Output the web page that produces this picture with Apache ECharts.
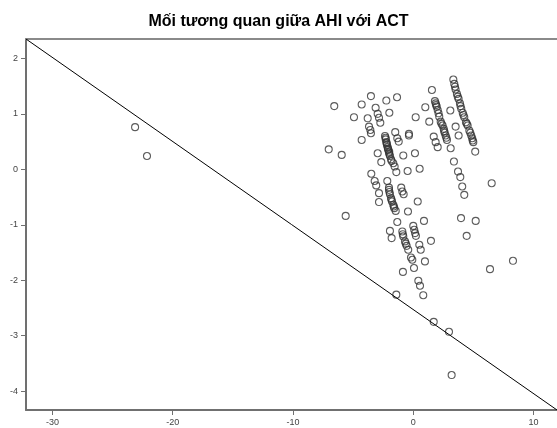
<!DOCTYPE html>
<html>
<head>
<meta charset="utf-8">
<script src="https://cdn.jsdelivr.net/npm/echarts@6/dist/echarts.min.js"></script>
<style>
html,body{margin:0;padding:0;background:#fff;}
#c{width:557px;height:428px;}
</style>
</head>
<body>
<div id="c"></div>
<script>
const titleText = "Mối tương quan giữa AHI với ACT";
const xTicks = [-30, -20, -10, 0, 10];
const yTicks = [-4, -3, -2, -1, 0, 1, 2];
const xRange = [-32.2, 11.95];
const yRange = [-4.34, 2.35];
const lineX = [-32.2, 11.95];
const lineY = [2.35, -4.34];
const xValues = [
-23.13,-22.14,-6.57,-7.03,-5.95,-4.29,-3.52,-4.93,-3.79,-3.13,-2.96,-2.85,-2.74,-2.24,-1.35,-1.99,-3.68,-3.57,-3.52,-4.29,
-2.35,-2.29,-2.24,-2.19,-2.13,-2.08,-2.02,-1.94,-1.85,-1.66,-1.55,-1.50,-1.33,-1.21,-0.36,-0.36,0.20,-2.96,-2.66,-0.83,
0.14,-1.41,-0.47,0.53,-3.49,-3.21,-3.08,-2.16,-2.02,-1.00,1.55,1.00,1.80,1.86,1.95,2.03,2.16,2.28,2.44,2.53,
2.61,2.69,2.80,1.33,1.70,1.86,2.03,3.08,3.11,3.33,3.41,3.52,3.63,3.77,3.88,3.99,4.11,4.24,4.38,4.52,
4.66,4.82,4.94,4.99,5.15,3.52,3.77,3.38,3.72,3.91,4.07,6.52,-2.85,-2.85,-2.02,-1.94,-1.85,-1.77,-1.66,-1.58,
-1.46,-0.91,-0.80,0.37,-0.44,-5.62,-1.33,0.89,-1.94,-1.80,-0.91,-0.83,-0.69,-0.55,-0.42,0.00,0.08,0.22,0.50,0.62,
1.47,-0.19,-0.08,0.97,0.06,-0.86,0.42,0.56,0.83,-1.41,3.97,5.19,4.44,4.24,6.38,8.29,1.70,2.97,3.19,
-2.30,-2.21,-2.10,-1.98,-1.80,-2.00,1.90,2.10,2.35,2.57,2.75,3.47,3.70,3.93,4.17,4.45,4.74,4.90,
-1.98,-1.81,-1.62,-0.87,-0.62,0.15
];
const yValues = [
0.76,0.24,1.14,0.36,0.26,1.17,1.32,0.94,0.92,1.11,1.00,0.93,0.84,1.24,1.30,1.02,0.77,0.71,0.65,0.53,
0.60,0.54,0.49,0.44,0.40,0.35,0.30,0.24,0.18,0.11,0.05,0.67,0.56,0.50,0.64,0.61,0.94,0.29,0.13,0.25,
0.29,-0.05,-0.03,0.01,-0.08,-0.21,-0.29,-0.21,-0.33,-0.33,1.43,1.12,1.23,1.19,1.13,1.07,0.95,0.86,0.79,0.73,
0.66,0.61,0.53,0.86,0.59,0.49,0.40,1.06,0.38,1.62,1.54,1.44,1.36,1.27,1.19,1.09,1.02,0.94,0.85,0.79,
0.70,0.61,0.52,0.49,0.32,0.77,0.61,0.14,-0.04,-0.14,-0.31,-0.25,-0.43,-0.59,-0.37,-0.45,-0.52,-0.58,-0.64,-0.70,
-0.75,-0.40,-0.45,-0.58,-0.76,-0.84,-0.95,-0.93,-1.11,-1.24,-1.12,-1.21,-1.30,-1.38,-1.45,-1.02,-1.09,-1.20,-1.36,-1.45,
-1.29,-1.59,-1.63,-1.66,-1.78,-1.85,-2.01,-2.10,-2.27,-2.26,-0.88,-0.93,-1.20,-0.46,-1.80,-1.65,-2.75,-2.93,-3.71,
0.57,0.47,0.37,0.27,0.15,0.32,1.16,1.01,0.82,0.69,0.57,1.49,1.31,1.14,0.98,0.82,0.66,0.56,
-0.41,-0.55,-0.67,-1.17,-1.34,-1.15
];
const points = xValues.map((x, i) => [x, yValues[i]]);
const linePts = lineX.map((x, i) => [x, lineY[i]]);

const axisGray = '#707070';
const labelStyle = {color: '#444', fontSize: 9, fontFamily: 'Liberation Sans, Arial, sans-serif'};

const chart = echarts.init(document.getElementById('c'), null, {renderer: 'canvas'});
chart.setOption({
  animation: false,
  backgroundColor: '#fff',
  title: {
    text: titleText, left: 'center', top: 9,
    textStyle: {fontSize: 16, fontWeight: 'bold', color: '#000', fontFamily: 'Liberation Sans, Arial, sans-serif'}
  },
  grid: {left: 26, top: 39, right: 0, bottom: 18, containLabel: false},
  xAxis: [{
    type: 'value', min: xRange[0], max: xRange[1], position: 'bottom',
    axisLine: {show: true, onZero: false, lineStyle: {color: axisGray, width: 2}},
    axisTick: {show: true, length: 5, customValues: xTicks, lineStyle: {color: axisGray, width: 1}},
    axisLabel: Object.assign({margin: 8, customValues: xTicks}, labelStyle),
    splitLine: {show: false}
  }, {
    type: 'value', min: xRange[0], max: xRange[1], position: 'top',
    axisLine: {show: true, onZero: false, lineStyle: {color: '#8a8a8a', width: 2}},
    axisTick: {show: false}, axisLabel: {show: false}, splitLine: {show: false}
  }],
  yAxis: {
    type: 'value', min: yRange[0], max: yRange[1],
    axisLine: {show: true, onZero: false, lineStyle: {color: axisGray, width: 2}},
    axisTick: {show: true, length: 5, customValues: yTicks, lineStyle: {color: axisGray, width: 1}},
    axisLabel: Object.assign({margin: 8, customValues: yTicks}, labelStyle),
    splitLine: {show: false}
  },
  series: [{
    type: 'line', data: linePts, symbol: 'none', xAxisIndex: 0,
    lineStyle: {color: '#000', width: 1}, silent: true
  }, {
    type: 'scatter', data: points, xAxisIndex: 0, symbol: 'circle', symbolSize: 7,
    itemStyle: {color: 'rgba(0,0,0,0)', borderColor: '#333', borderWidth: 1.1}
  }]
});
</script>
</body>
</html>
